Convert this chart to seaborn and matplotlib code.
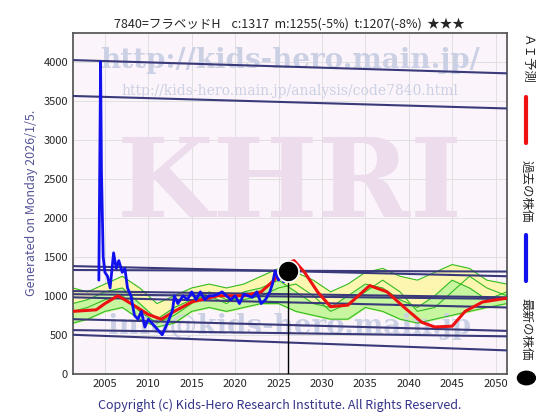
import numpy as np
import pandas as pd
import seaborn as sns
import matplotlib
matplotlib.use("Agg")
from matplotlib import pyplot as plt

sns.set_theme(style="white")
plt.rcParams['font.family'] = ['Noto Sans CJK JP', 'DejaVu Sans']

# actual price (blue)
price_year = [2004.3, 2004.5, 2004.6, 2004.8, 2005.0, 2005.3, 2005.6, 2006.0, 2006.3, 2006.6, 2007.0,
              2007.3, 2007.6, 2008.0, 2008.4, 2008.8, 2009.2, 2009.6, 2010.0, 2010.4, 2010.8, 2011.2,
              2011.6, 2012.0, 2012.4, 2012.8, 2013.0, 2013.4, 2014.0, 2014.5, 2015.0, 2015.5, 2016.0,
              2016.5, 2017.0, 2017.5, 2018.0, 2018.5, 2019.0, 2019.5, 2020.0, 2020.5, 2021.0, 2021.5,
              2022.0, 2022.5, 2023.0, 2023.5, 2024.0, 2024.3, 2024.6, 2025.0, 2025.3, 2025.6]
price_vals = [1200, 4000, 2600, 1500, 1300, 1250, 1100, 1550, 1350, 1450, 1300,
              1350, 1100, 1000, 750, 700, 800, 600, 700, 650, 600, 550,
              500, 600, 700, 820, 1000, 900, 1000, 950, 1050, 950, 1050,
              950, 1000, 1000, 1020, 1050, 1000, 950, 1000, 900, 1020, 1000,
              980, 1050, 900, 950, 1050, 1150, 1320, 1200, 1250, 1180]

# forecast (red)
fc_year = [2001.3, 2004.0, 2005.0, 2006.5, 2008.0, 2010.0, 2011.5, 2013.0, 2015.0, 2018.0, 2021.0,
           2023.0, 2024.5, 2026.0, 2026.8, 2028.0, 2029.5, 2031.0, 2033.0, 2035.5, 2037.5, 2039.5,
           2041.5, 2043.0, 2045.0, 2046.5, 2048.5, 2051.3]
fc_vals = [800, 820, 900, 1000, 900, 760, 700, 800, 920, 1000, 1000,
           1050, 1200, 1420, 1450, 1300, 1050, 860, 880, 1130, 1050, 850,
           660, 600, 610, 800, 920, 970]

# band envelope (green/yellow)
band_year = [2001.3, 2003, 2005, 2007, 2009, 2011, 2013, 2015, 2017, 2019, 2021, 2023, 2025,
             2027, 2029, 2031, 2033, 2035, 2037, 2039, 2041, 2043, 2045, 2047, 2049, 2051.3]
band_hi = [1100, 1050, 1150, 1250, 1100, 900, 1000, 1100, 1150, 1100, 1150, 1250, 1350,
           1300, 1200, 1050, 1150, 1300, 1350, 1250, 1200, 1300, 1400, 1350, 1200, 1150]
band_lo = [650, 700, 800, 850, 700, 600, 650, 800, 850, 800, 850, 900, 900,
           800, 750, 700, 700, 850, 800, 700, 650, 700, 750, 800, 850, 900]
band_mid1 = [900, 950, 1050, 1100, 900, 700, 850, 950, 1000, 900, 1050, 1100, 1200,
             1050, 900, 850, 1000, 1150, 1100, 950, 850, 1000, 1200, 1100, 950, 1050]
band_mid2 = [800, 850, 950, 1000, 800, 650, 750, 900, 1050, 950, 950, 1000, 1100,
             1150, 1000, 800, 900, 1050, 1200, 1050, 800, 850, 1050, 1250, 1100, 1000]

# trend lines (start at 2001.3, end at 2051.3)
trend_start = [4020, 3560, 1380, 1330, 1060, 1020, 980, 700, 560, 500]
trend_end = [3850, 3400, 1250, 1310, 980, 960, 850, 550, 480, 300]

now_year, now_price = 2026.1, 1317

fig = plt.figure(figsize=(5.6, 4.2), dpi=100)
ax = fig.add_axes([0.13, 0.11, 0.775, 0.812])
ax.set_facecolor('#fbf5fb')
x0, x1 = 2001.3, 2051.3

ax.fill_between(band_year, band_lo, band_hi, color='#fdf6b0', zorder=1)
ax.fill_between(band_year, band_lo, band_mid1, color='#c8f5a0', zorder=1.1)
for s in [band_hi, band_lo, band_mid1, band_mid2]:
    sns.lineplot(x=band_year, y=s, color='#33bb22', lw=0.8, ax=ax, zorder=2)

for a, b in zip(trend_start, trend_end):
    ax.plot([x0, x1], [a, b], color='#3a3a7a', lw=1.5, zorder=3)

# watermarks
ax.text(0.5, 0.92, 'http://kids-hero.main.jp/', transform=ax.transAxes, ha='center', va='center',
        fontsize=20, color='#ccd0e4', fontfamily='DejaVu Serif', fontweight='bold', zorder=1.5)
ax.text(0.5, 0.83, 'http://kids-hero.main.jp/analysis/code7840.html', transform=ax.transAxes,
        ha='center', va='center', fontsize=10, color='#ccd0e4', fontfamily='DejaVu Serif', zorder=1.5)
ax.text(0.5, 0.55, 'KHRI', transform=ax.transAxes, ha='center', va='center',
        fontsize=80, color='#ecdcec', fontfamily='DejaVu Serif', fontweight='bold', zorder=1.5)
ax.text(0.5, 0.14, 'info@kids-hero.main.jp', transform=ax.transAxes, ha='center', va='center',
        fontsize=20, color='#ccd0e4', fontfamily='DejaVu Serif', fontweight='bold', zorder=1.5)

sns.lineplot(x=fc_year, y=fc_vals, color='#ee1111', lw=2.2, ax=ax, zorder=4)
sns.lineplot(x=price_year, y=price_vals, color='#1111ee', lw=2, ax=ax, zorder=5)
ax.plot([now_year, now_year], [0, now_price], color='black', lw=1, zorder=5)
ax.scatter([now_year], [now_price], s=230, color='black', edgecolor='white', lw=1.2, zorder=6)

ax.set_xlim(x0, x1)
ax.set_ylim(0, 4370)
ax.set_xticks(range(2005, 2051, 5))
ax.set_yticks(range(0, 4001, 500))
ax.tick_params(labelsize=8, length=0)
ax.grid(True, color='#dddddd', lw=0.6)
for sp in ax.spines.values():
    sp.set_color('#555555')
ax.set_ylabel('Generated on Monday 2026/1/5.', fontsize=9, color='#555599')
ax.set_title('7840=フラベッドH    c:1317  m:1255(-5%)  t:1207(-8%)  ★★★', fontsize=9, pad=4)
fig.text(0.5, 0.025, 'Copyright (c) Kids-Hero Research Institute. All Rights Reserved.',
         ha='center', fontsize=9, color='#333388')

# right legend
fig.text(0.94, 0.92, 'ＡＩ予測', rotation=270, ha='center', va='top', fontsize=9)
fig.add_artist(plt.Line2D([0.94, 0.94], [0.66, 0.77], color='#ee1111', lw=3))
fig.text(0.94, 0.62, '過去の株価', rotation=270, ha='center', va='top', fontsize=9)
fig.add_artist(plt.Line2D([0.94, 0.94], [0.33, 0.44], color='#1111ee', lw=3))
fig.text(0.94, 0.29, '最新の株価', rotation=270, ha='center', va='top', fontsize=9)
fig.add_artist(plt.Circle((0.94, 0.1), 0.016, transform=fig.transFigure, color='black'))

fig.savefig('out.png', dpi=100)
